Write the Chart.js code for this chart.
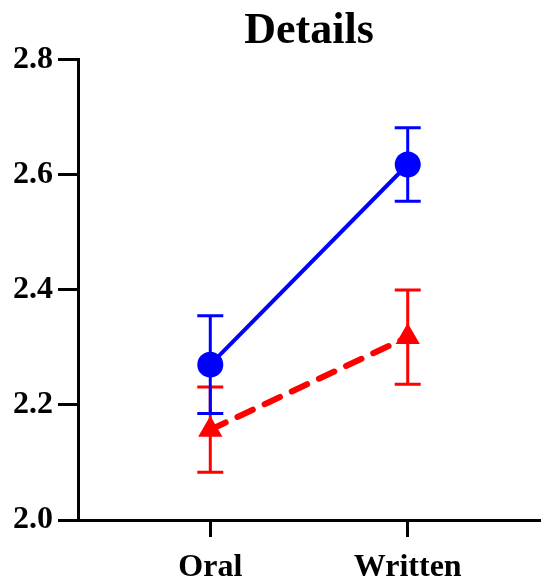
<!DOCTYPE html>
<html>
<head>
<meta charset="utf-8">
<script src="https://cdn.jsdelivr.net/npm/chart.js@4"></script>
<style>
  html, body { margin: 0; padding: 0; background: #fff; }
  #wrap { width: 544px; height: 582px; }
</style>
</head>
<body>
<div id="wrap"><canvas id="chart"></canvas></div>
<script>
// chart data
const titleText = 'Details';
const categories = ['Oral', 'Written'];
const blueMeans = [2.27, 2.618];
const blueErrors = [0.085, 0.064];
const redMeans = [2.157, 2.318];
const redErrors = [0.074, 0.082];
const yTicks = [2.0, 2.2, 2.4, 2.6, 2.8];

const FONT = "'Liberation Serif', 'Times New Roman', serif";

// error bars drawn from the dataset's own scale
const errorBars = {
    id: 'errorBars',
    afterDatasetsDraw(chart) {
        const ctx = chart.ctx;
        const xs = chart.scales.x;
        const ys = chart.scales.y;
        chart.data.datasets.forEach(ds => {
            if (!ds.errors) return;
            ctx.save();
            ctx.strokeStyle = ds.borderColor;
            ctx.lineWidth = 3;
            ctx.setLineDash([]);
            ds.data.forEach((pt, i) => {
                const x = xs.getPixelForValue(pt.x);
                const top = ys.getPixelForValue(pt.y + ds.errors[i]);
                const bot = ys.getPixelForValue(pt.y - ds.errors[i]);
                ctx.beginPath();
                ctx.moveTo(x, top);
                ctx.lineTo(x, bot);
                ctx.moveTo(x - 13, top);
                ctx.lineTo(x + 13, top);
                ctx.moveTo(x - 13, bot);
                ctx.lineTo(x + 13, bot);
                ctx.stroke();
            });
            ctx.restore();
        });
    }
};

const toPoints = vals => vals.map((v, i) => ({ x: i, y: v }));

new Chart(document.getElementById('chart'), {
    type: 'line',
    data: {
        datasets: [{
            label: 'Red',
            data: toPoints(redMeans),
            errors: redErrors,
            borderColor: '#ff0000',
            backgroundColor: '#ff0000',
            borderWidth: 6,
            borderDash: [17, 13],
            borderCapStyle: 'round',
            pointStyle: 'triangle',
            pointRadius: 14,
            pointBorderWidth: 0,
            pointHoverRadius: 14
        }, {
            label: 'Blue',
            data: toPoints(blueMeans),
            errors: blueErrors,
            borderColor: '#0000ff',
            backgroundColor: '#0000ff',
            borderWidth: 4,
            pointStyle: 'circle',
            pointRadius: 13,
            pointBorderWidth: 0,
            pointHoverRadius: 13
        }]
    },
    plugins: [errorBars],
    options: {
        responsive: true,
        maintainAspectRatio: false,
        animation: false,
        clip: false,
        layout: { autoPadding: false, padding: { left: 0, right: 4, top: 0, bottom: 0 } },
        plugins: {
            legend: { display: false },
            tooltip: { enabled: false },
            title: {
                display: true,
                text: titleText,
                fullSize: false,
                color: '#000',
                font: { family: FONT, size: 44, weight: 'bold' },
                padding: { top: 5, bottom: 2 }
            }
        },
        scales: {
            x: {
                type: 'linear',
                min: -0.67,
                max: 1.67,
                afterBuildTicks(scale) {
                    scale.ticks = categories.map((c, i) => ({ value: i }));
                },
                afterFit(scale) {
                    scale.height = 62;
                    scale.paddingLeft = 0;
                    scale.paddingRight = 0;
                },
                grid: {
                    drawOnChartArea: false,
                    drawTicks: true,
                    tickLength: 17,
                    tickWidth: 3,
                    tickColor: '#000'
                },
                border: { display: true, color: '#000', width: 3 },
                ticks: {
                    color: '#000',
                    padding: 12,
                    autoSkip: false,
                    maxRotation: 0,
                    font: { family: FONT, size: 32, weight: 'bold' },
                    callback: v => categories[v]
                }
            },
            y: {
                min: 2.0,
                max: 2.8,
                afterBuildTicks(scale) {
                    scale.ticks = yTicks.map(v => ({ value: v }));
                },
                afterFit(scale) { scale.width = 78; },
                grid: {
                    drawOnChartArea: false,
                    drawTicks: true,
                    tickLength: 20,
                    tickWidth: 3,
                    tickColor: '#000'
                },
                border: { display: true, color: '#000', width: 3 },
                ticks: {
                    color: '#000',
                    padding: 5,
                    font: { family: FONT, size: 32, weight: 'bold' },
                    callback: v => v.toFixed(1)
                }
            }
        }
    }
});
</script>
</body>
</html>
